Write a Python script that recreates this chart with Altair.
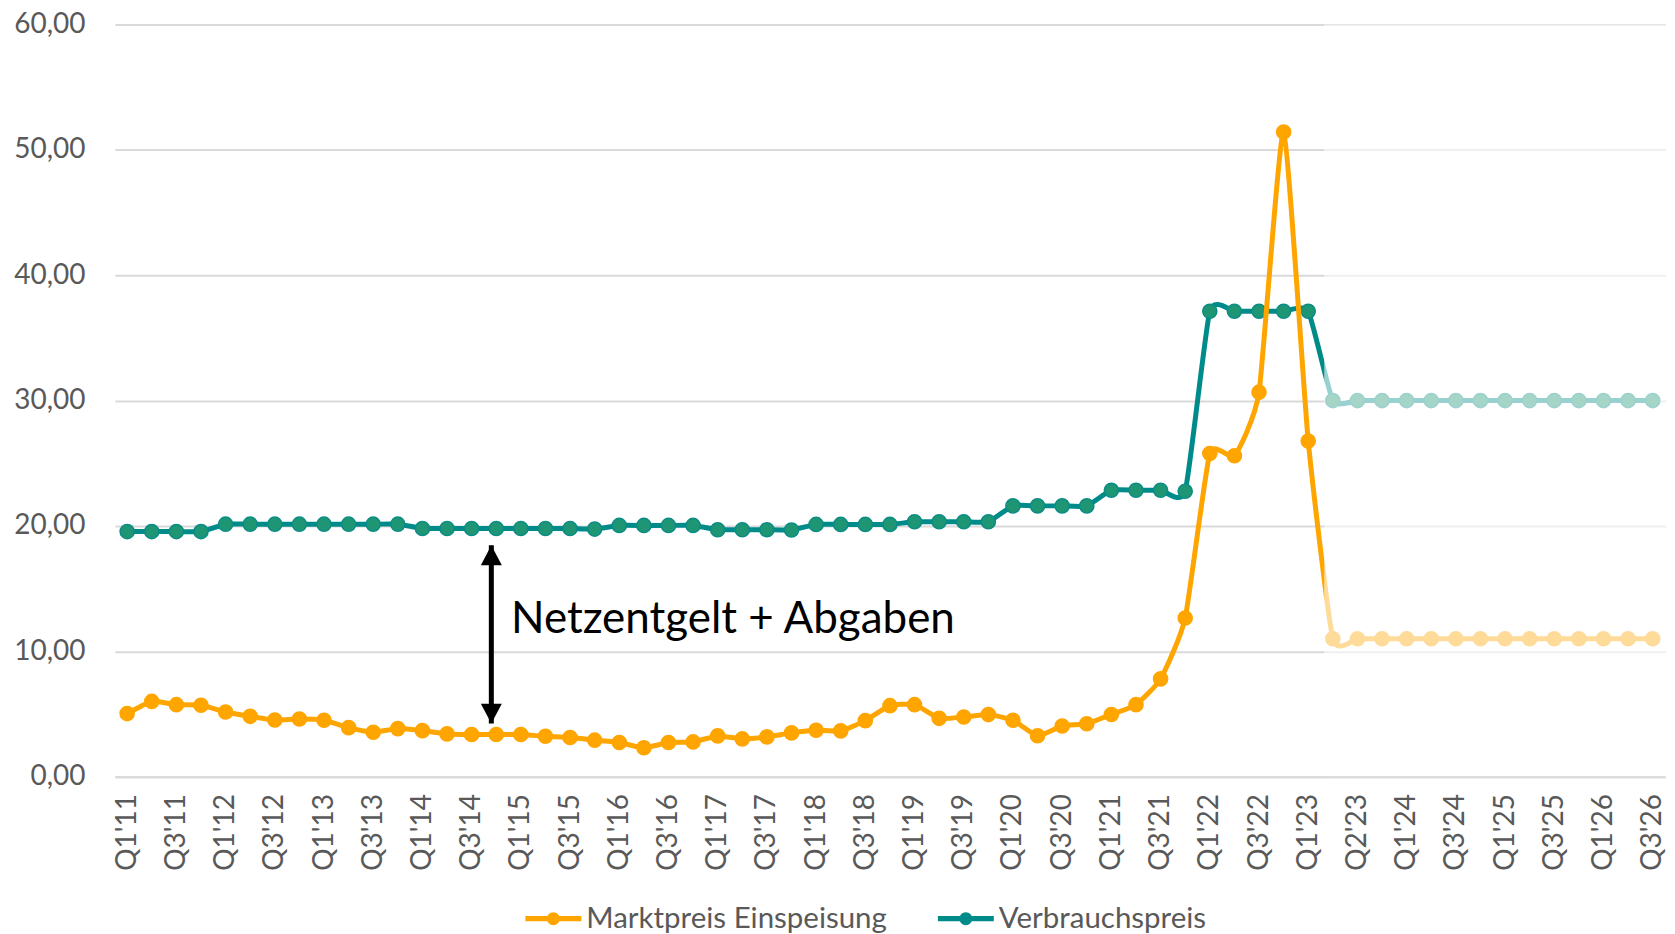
import json
import altair as alt
import pandas as pd

# ---------------- data ----------------
quarters = [
    "Q1'11", "Q2'11", "Q3'11", "Q4'11", "Q1'12", "Q2'12", "Q3'12", "Q4'12",
    "Q1'13", "Q2'13", "Q3'13", "Q4'13", "Q1'14", "Q2'14", "Q3'14", "Q4'14",
    "Q1'15", "Q2'15", "Q3'15", "Q4'15", "Q1'16", "Q2'16", "Q3'16", "Q4'16",
    "Q1'17", "Q2'17", "Q3'17", "Q4'17", "Q1'18", "Q2'18", "Q3'18", "Q4'18",
    "Q1'19", "Q2'19", "Q3'19", "Q4'19", "Q1'20", "Q2'20", "Q3'20", "Q4'20",
    "Q1'21", "Q2'21", "Q3'21", "Q4'21", "Q1'22", "Q2'22", "Q3'22", "Q4'22",
    "Q1'23", "Q2'23", "Q2'23", "Q4'23", "Q1'24", "Q2'24", "Q3'24", "Q4'24",
    "Q1'25", "Q2'25", "Q3'25", "Q4'25", "Q1'26", "Q2'26", "Q3'26",
]

marktpreis = [
    5.03, 6.00, 5.74, 5.69, 5.16, 4.81, 4.52, 4.60, 4.50, 3.91,
    3.54, 3.83, 3.67, 3.41, 3.36, 3.36, 3.36, 3.22, 3.12, 2.91,
    2.72, 2.30, 2.72, 2.77, 3.25, 3.01, 3.17, 3.49, 3.70, 3.65,
    4.47, 5.66, 5.74, 4.65, 4.76, 4.95, 4.50, 3.26, 4.04, 4.22,
    4.96, 5.74, 7.80, 12.66, 25.78, 25.60, 30.67, 51.42, 26.77, 11.00,
    11.00, 11.00, 11.00, 11.00, 11.00, 11.00, 11.00, 11.00, 11.00, 11.00,
    11.00, 11.00, 11.00,
]

verbrauchspreis = [
    19.55, 19.55, 19.55, 19.55, 20.14, 20.14, 20.14, 20.14, 20.14, 20.14,
    20.14, 20.14, 19.80, 19.80, 19.80, 19.80, 19.80, 19.80, 19.80, 19.75,
    20.04, 20.04, 20.04, 20.04, 19.70, 19.70, 19.70, 19.68, 20.12, 20.12,
    20.12, 20.12, 20.33, 20.33, 20.33, 20.33, 21.60, 21.60, 21.60, 21.60,
    22.85, 22.85, 22.85, 22.77, 37.13, 37.13, 37.13, 37.13, 37.13, 30.00,
    30.00, 30.00, 30.00, 30.00, 30.00, 30.00, 30.00, 30.00, 30.00, 30.00,
    30.00, 30.00, 30.00,
]

series_names = ["Marktpreis Einspeisung", "Verbrauchspreis"]
line_colors = ["#FFA500", "#008B8B"]
dot_fill_colors = ["#FFA500", "#1E9673"]
dot_stroke_colors = ["#FFA500", "#0B8C86"]

y_ticks = [0, 10, 20, 30, 40, 50, 60]
x_tick_positions = list(range(0, len(quarters), 2))
x_domain = [-0.5, len(quarters) - 0.5]
y_domain = [0, 60]

# forecast region (lighter, white veil) starts between Q1'23 and the next point
forecast_start = [48.65]

# annotation: double arrow and label
arrow_x = [14.80]
arrow_top = [18.45]
arrow_bottom = [4.23]
annotation_text = ["Netzentgelt + Abgaben"]
annotation_x = [15.60]
annotation_y = [11.46]

# ---------------- tables ----------------
rows = []
for i, q in enumerate(quarters):
    rows.append({"idx": i, "quarter": q, "series": series_names[0], "value": marktpreis[i]})
    rows.append({"idx": i, "quarter": q, "series": series_names[1], "value": verbrauchspreis[i]})
df = pd.DataFrame(rows)

veil_df = pd.DataFrame({"x": forecast_start, "x2": [x_domain[1]],
                        "y": [y_domain[1]], "y2": [y_domain[0]]})
arrow_df = pd.DataFrame({"x": arrow_x, "top": arrow_top, "bottom": arrow_bottom})
text_df = pd.DataFrame({"x": annotation_x, "y": annotation_y, "label": annotation_text})

FONT = "Lato"
GREY = "#595959"
GRID = "#D9D9D9"

label_expr = json.dumps(quarters) + "[datum.value]"

x_enc = alt.X(
    "idx:Q",
    scale=alt.Scale(domain=x_domain, nice=False, zero=False),
    axis=alt.Axis(
        values=x_tick_positions, labelExpr=label_expr, labelAngle=270,
        labelAlign="right", labelBaseline="middle",
        grid=False, ticks=False, domainColor=GRID, domainWidth=2,
        labelFontSize=28, labelColor=GREY, labelFont=FONT, labelPadding=17,
        labelFlush=False, labelOverlap=False, title=None, zindex=1,
    ),
)
y_enc = alt.Y(
    "value:Q",
    scale=alt.Scale(domain=y_domain, nice=False, zero=True),
    axis=alt.Axis(
        values=y_ticks, labelExpr="replace(format(datum.value, '.2f'), '.', ',')",
        grid=True, gridColor=GRID, gridWidth=2, ticks=False, domain=False,
        labelFontSize=28, labelColor=GREY, labelFont=FONT, labelPadding=30,
        minExtent=107, title=None,
    ),
)

legend_symbol = (
    "M-1,-0.095H-0.2V0.095H-1Z "
    "M0.2,-0.095H1V0.095H0.2Z "
    "M0.23,0A0.23,0.23,0,1,1,-0.23,0A0.23,0.23,0,1,1,0.23,0Z"
)

legend = alt.Legend(
    orient="none", legendX=411, legendY=867, direction="horizontal", title=None,
    symbolType=legend_symbol, symbolSize=3136, symbolStrokeWidth=0, symbolOpacity=1,
    labelFontSize=29.5, labelColor=GREY, labelFont=FONT, labelOffset=5, labelLimit=600,
    columnPadding=50, padding=0,
)

color_scale = alt.Scale(domain=series_names, range=line_colors)
fill_enc = alt.Fill("series:N", scale=alt.Scale(domain=series_names, range=dot_fill_colors),
                    legend=None)
stroke_enc = alt.Stroke("series:N", scale=alt.Scale(domain=series_names, range=dot_stroke_colors),
                        legend=None)


def series_layers(name):
    src = alt.Chart(df).transform_filter(alt.datum.series == name)
    line = src.mark_line(interpolate="cardinal", tension=0.5, strokeWidth=5,
                         strokeCap="round", strokeJoin="round").encode(
        x=x_enc, y=y_enc, color=alt.Color("series:N", scale=color_scale, legend=None))
    pts = src.mark_point(filled=True, size=200, opacity=1, strokeWidth=1.5).encode(
        x=x_enc, y=y_enc, fill=fill_enc, stroke=stroke_enc)
    return [line, pts]


layers = series_layers(series_names[1]) + series_layers(series_names[0])

# invisible layer that only carries the legend
legend_layer = alt.Chart(df).mark_point(filled=True, opacity=0, size=1).encode(
    x=x_enc, y=y_enc, color=alt.Color("series:N", scale=color_scale, legend=legend))

veil = alt.Chart(veil_df).mark_rect(color="white", opacity=0.6).encode(
    x="x:Q", x2="x2", y="y:Q", y2="y2")

shaft = alt.Chart(arrow_df).mark_rule(color="black", strokeWidth=5).encode(
    x="x:Q", y="top:Q", y2="bottom")
head_up = alt.Chart(arrow_df).mark_point(
    shape="M0,0L0.5,0.95L-0.5,0.95Z", filled=True, size=1764, color="black",
    opacity=1, strokeWidth=0).encode(x="x:Q", y="top:Q")
head_down = alt.Chart(arrow_df).mark_point(
    shape="M0,0L0.5,-0.95L-0.5,-0.95Z", filled=True, size=1764, color="black",
    opacity=1, strokeWidth=0).encode(x="x:Q", y="bottom:Q")

label = alt.Chart(text_df).mark_text(
    align="left", baseline="alphabetic", fontSize=44, font=FONT, color="black"
).encode(x="x:Q", y="y:Q", text="label:N")

chart = alt.layer(legend_layer, *layers, veil, shaft, head_up, head_down, label).resolve_scale(
    color="shared"
).properties(
    width=1552, height=753,
    padding={"left": 0, "top": 2, "right": 0, "bottom": 0},
).configure(
    background="white", font=FONT, view=alt.ViewConfig(stroke=None)
)

chart.save("out.html", embed_options={"renderer": "svg", "actions": False})
